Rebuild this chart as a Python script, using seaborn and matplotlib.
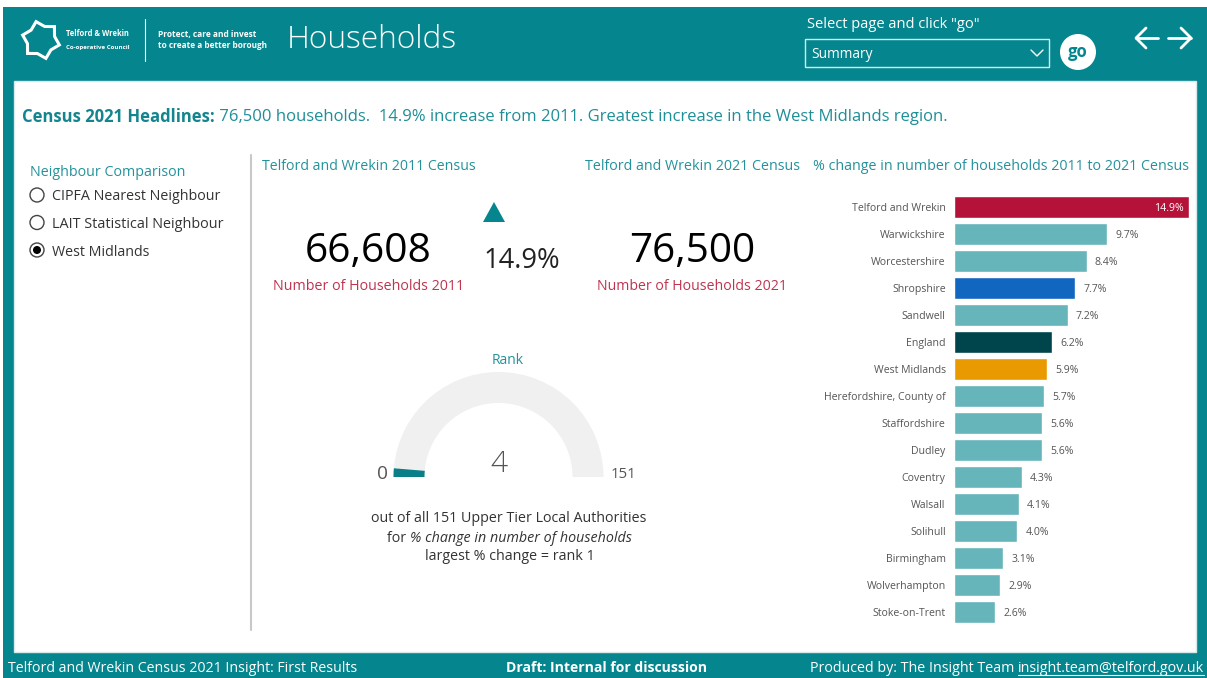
import matplotlib
matplotlib.use("Agg")
import matplotlib.pyplot as plt
import seaborn as sns
import numpy as np
import pandas as pd
from matplotlib.patches import Rectangle, Circle, Wedge, Polygon
from matplotlib import font_manager

# ---------------- data ----------------
areas = ["Telford and Wrekin", "Warwickshire", "Worcestershire", "Shropshire",
         "Sandwell", "England", "West Midlands", "Herefordshire, County of",
         "Staffordshire", "Dudley", "Coventry", "Walsall", "Solihull",
         "Birmingham", "Wolverhampton", "Stoke-on-Trent"]
pct_change = [14.9, 9.7, 8.4, 7.7, 7.2, 6.2, 5.9, 5.7, 5.6, 5.6, 4.3, 4.1, 4.0,
              3.1, 2.9, 2.6]
households_2011 = 66608
households_2021 = 76500
change_2011_2021 = 14.9
rank = 4
n_authorities = 151
neighbour_options = ["CIPFA Nearest Neighbour", "LAIT Statistical Neighbour",
                     "West Midlands"]
selected_option = "West Midlands"

# ---------------- styles ----------------
TEAL = "#05868E"
TEAL_TXT = "#24929B"
RED_TXT = "#C0344F"
DARK = "#333333"
GREY = "#555555"
default_bar = "#66B5BB"
highlight = {"Telford and Wrekin": "#B5123A", "Shropshire": "#1167C0",
             "England": "#00444C", "West Midlands": "#E89A00"}
bar_colors = {a: highlight.get(a, default_bar) for a in areas}

sns.set_theme(style="white")
installed = {f.name for f in font_manager.fontManager.ttflist}
MAIN = ["Open Sans", "DejaVu Sans"]
NARROW = ["Liberation Sans Narrow", "Open Sans", "DejaVu Sans"] if "Liberation Sans Narrow" in installed else MAIN
plt.rcParams["font.family"] = MAIN

W, H = 1207, 678
fig = plt.figure(figsize=(W / 100, H / 100), dpi=100)
fig.patch.set_facecolor("white")
R = fig.canvas.get_renderer()

cv = fig.add_axes([0, 0, 1, 1], zorder=0)
cv.set_xlim(0, W)
cv.set_ylim(H, 0)
cv.axis("off")

DY = 2  # visual-centre correction


def fit_parts(parts, x0, x1, y, base=10, family=None):
    """parts: list of (text, kwargs). Fit total width to x1-x0."""
    fam = family or MAIN
    objs = []
    for s, kw in parts:
        t = cv.text(0, y + DY, s, fontsize=base, va="center", ha="left", family=fam, **kw)
        objs.append(t)
    widths = [t.get_window_extent(renderer=R).width for t in objs]
    scale = (x1 - x0) / sum(widths)
    x = x0
    for t in objs:
        t.set_fontsize(base * scale)
    widths = [t.get_window_extent(renderer=R).width for t in objs]
    for t, w in zip(objs, widths):
        t.set_x(x)
        x += w
    return objs


def fit(s, x0, x1, y, **kw):
    fam = kw.pop("family", None)
    return fit_parts([(s, kw)], x0, x1, y, family=fam)[0]


# ---------------- background ----------------
cv.add_patch(Rectangle((3, 7), W - 3, H - 7, facecolor=TEAL, edgecolor="none"))
cv.add_patch(Rectangle((14, 81), 1182, 571, facecolor="white", edgecolor="#d9e9ea", lw=1))

# logo
ang = np.deg2rad(np.arange(12) * 30 + 15)
rad = np.where(np.arange(12) % 2 == 0, 19, 14)
cv.add_patch(Polygon(np.c_[41 + rad * np.cos(ang), 40 + rad * np.sin(ang)],
                     closed=True, fill=False, edgecolor="white", lw=2.2))
fit("Telford & Wrekin", 66, 129, 32, color="white", fontweight="bold", family=NARROW)
fit("Co-operative Council", 66, 129, 45, color="white", fontweight="bold", family=NARROW)
cv.plot([145, 145], [19, 61], color="white", lw=0.8)
fit("Protect, care and invest", 158, 258, 33, color="white", fontweight="bold")
fit("to create a better borough", 158, 268, 44, color="white", fontweight="bold")
fit("Households", 287, 457, 38, color="white", fontweight="light")

# page selector
fit('Select page and click "go"', 807, 980, 22, color="white")
cv.add_patch(Rectangle((805, 39), 244, 28, facecolor="none", edgecolor="#d5eaec", lw=1))
fit("Summary", 811, 873, 53, color="white")
cv.plot([1031, 1037, 1043], [50, 56, 50], color="white", lw=1)
cv.add_patch(Circle((1078, 52), 18, facecolor="white", edgecolor="none"))
cv.text(1078, 52, "go", ha="center", va="center", color=TEAL, fontsize=12, fontweight="bold")
for x_tail, x_head, d in [(1158, 1136, 10), (1168, 1191, -10)]:
    cv.plot([x_tail, x_head], [38, 38], color="white", lw=2)
    cv.plot([x_head + d, x_head, x_head + d], [28, 38, 48], color="white", lw=2)

# headline
fit_parts([("Census 2021 Headlines:", dict(color="#12858E", fontweight="bold")),
           (" %s households.  %.1f%% increase from 2011. Greatest increase in the West Midlands region."
            % (f"{households_2021:,}", change_2011_2021), dict(color="#1E8E97"))],
          22, 946, 115)

# neighbour comparison
fit("Neighbour Comparison", 30, 185, 170, color=TEAL_TXT)
ends = [221, 224, 150]
for i, opt in enumerate(neighbour_options):
    y = 195 + i * 27.5
    cv.add_patch(Circle((37, y), 7, facecolor="white", edgecolor="#444444", lw=1))
    if opt == selected_option:
        cv.add_patch(Circle((37, y), 4, facecolor="black", edgecolor="none"))
    fit(opt, 52, ends[i], y, color=DARK)

cv.plot([251, 251], [155, 630], color="#C8C8C8", lw=1.5)

# KPI cards
fit("Telford and Wrekin 2011 Census", 262, 475, 165, color=TEAL_TXT)
fit("Telford and Wrekin 2021 Census", 585, 799, 165, color=TEAL_TXT)
fit("% change in number of households 2011 to 2021 Census", 813, 1190, 165, color=TEAL_TXT)
fit(f"{households_2011:,}", 305, 432, 250, color="black")
fit(f"{households_2021:,}", 629, 756, 250, color="black")
fit("Number of Households 2011", 273, 464, 285, color=RED_TXT)
fit("Number of Households 2021", 597, 787, 285, color=RED_TXT)
cv.add_patch(Polygon([[483, 222], [505, 222], [494, 202]], closed=True,
                     facecolor=TEAL, edgecolor="none"))
fit(f"{change_2011_2021:.1f}%", 483, 560, 259, color="#222222")

# gauge
gc = (498.5, 477)
fit("Rank", 492, 524, 358, color=TEAL_TXT)
cv.add_patch(Wedge(gc, 105, 180, 360, width=31, facecolor="#F0F0F0", edgecolor="none"))
cv.add_patch(Wedge(gc, 105, 180, 180 + 180 * rank / n_authorities, width=31,
                   facecolor="#0B7F88", edgecolor="none"))
fit(str(rank), 490, 507, 462, color=GREY, fontweight="light")
fit("0", 377, 388, 472, color=GREY)
fit(str(n_authorities), 611, 637, 472, color=GREY)
t1 = fit(f"out of all {n_authorities} Upper Tier Local Authorities", 371, 648, 517, color=DARK)
fs = t1.get_fontsize()
pa = cv.text(0, 536 + DY, "for ", fontsize=fs, va="center", color=DARK)
pb = cv.text(0, 536 + DY, "% change in number of households", fontsize=fs, va="center",
             color=DARK, fontstyle="italic")
wa = pa.get_window_extent(renderer=R).width
wb = pb.get_window_extent(renderer=R).width
pa.set_x(509.5 - (wa + wb) / 2)
pb.set_x(509.5 - (wa + wb) / 2 + wa)
cv.text(509.5, 555 + DY, "largest % change = rank 1", fontsize=fs, va="center", ha="center", color=DARK)

# footer
fit("Telford and Wrekin Census 2021 Insight: First Results", 8, 357, 666, color="white", family=NARROW)
fit("Draft: Internal for discussion", 506, 708, 666, color="white", fontweight="bold", family=NARROW)
fp = fit_parts([("Produced by: The Insight Team ", dict(color="white")),
                ("insight.team@telford.gov.uk", dict(color="white"))], 810, 1204, 666, family=NARROW)
bb = fp[1].get_window_extent(renderer=R)
cv.plot([bb.x0, bb.x1], [675, 675], color="white", lw=0.8)

# ---------------- bar chart (seaborn) ----------------
bx = fig.add_axes([954 / W, 1 - 625.5 / H, 244.5 / W, 432 / H], zorder=2)
bx.patch.set_alpha(0)
df = pd.DataFrame({"area": areas, "pct": pct_change})
sns.barplot(data=df, x="pct", y="area", hue="area", palette=bar_colors,
            orient="h", width=0.78, saturation=1, legend=False, ax=bx)
bx.set_xlim(0, 15.5)
bx.set_ylim(15.5, -0.5)
for s in bx.spines.values():
    s.set_visible(False)
bx.set_xticks([])
bx.set_xlabel("")
bx.set_ylabel("")
bx.tick_params(axis="y", length=0, pad=6, labelsize=7.6, labelcolor=GREY)
vmax = max(pct_change)
for i, v in enumerate(pct_change):
    if v == vmax:
        bx.annotate(f"{v:.1f}%", (v, i), xytext=(-4, 0), textcoords="offset points",
                    ha="right", va="center_baseline", color="white", fontsize=7.6)
    else:
        bx.annotate(f"{v:.1f}%", (v, i), xytext=(6, 0), textcoords="offset points",
                    ha="left", va="center_baseline", color=GREY, fontsize=7.6)

fig.savefig("out.png", dpi=100)
